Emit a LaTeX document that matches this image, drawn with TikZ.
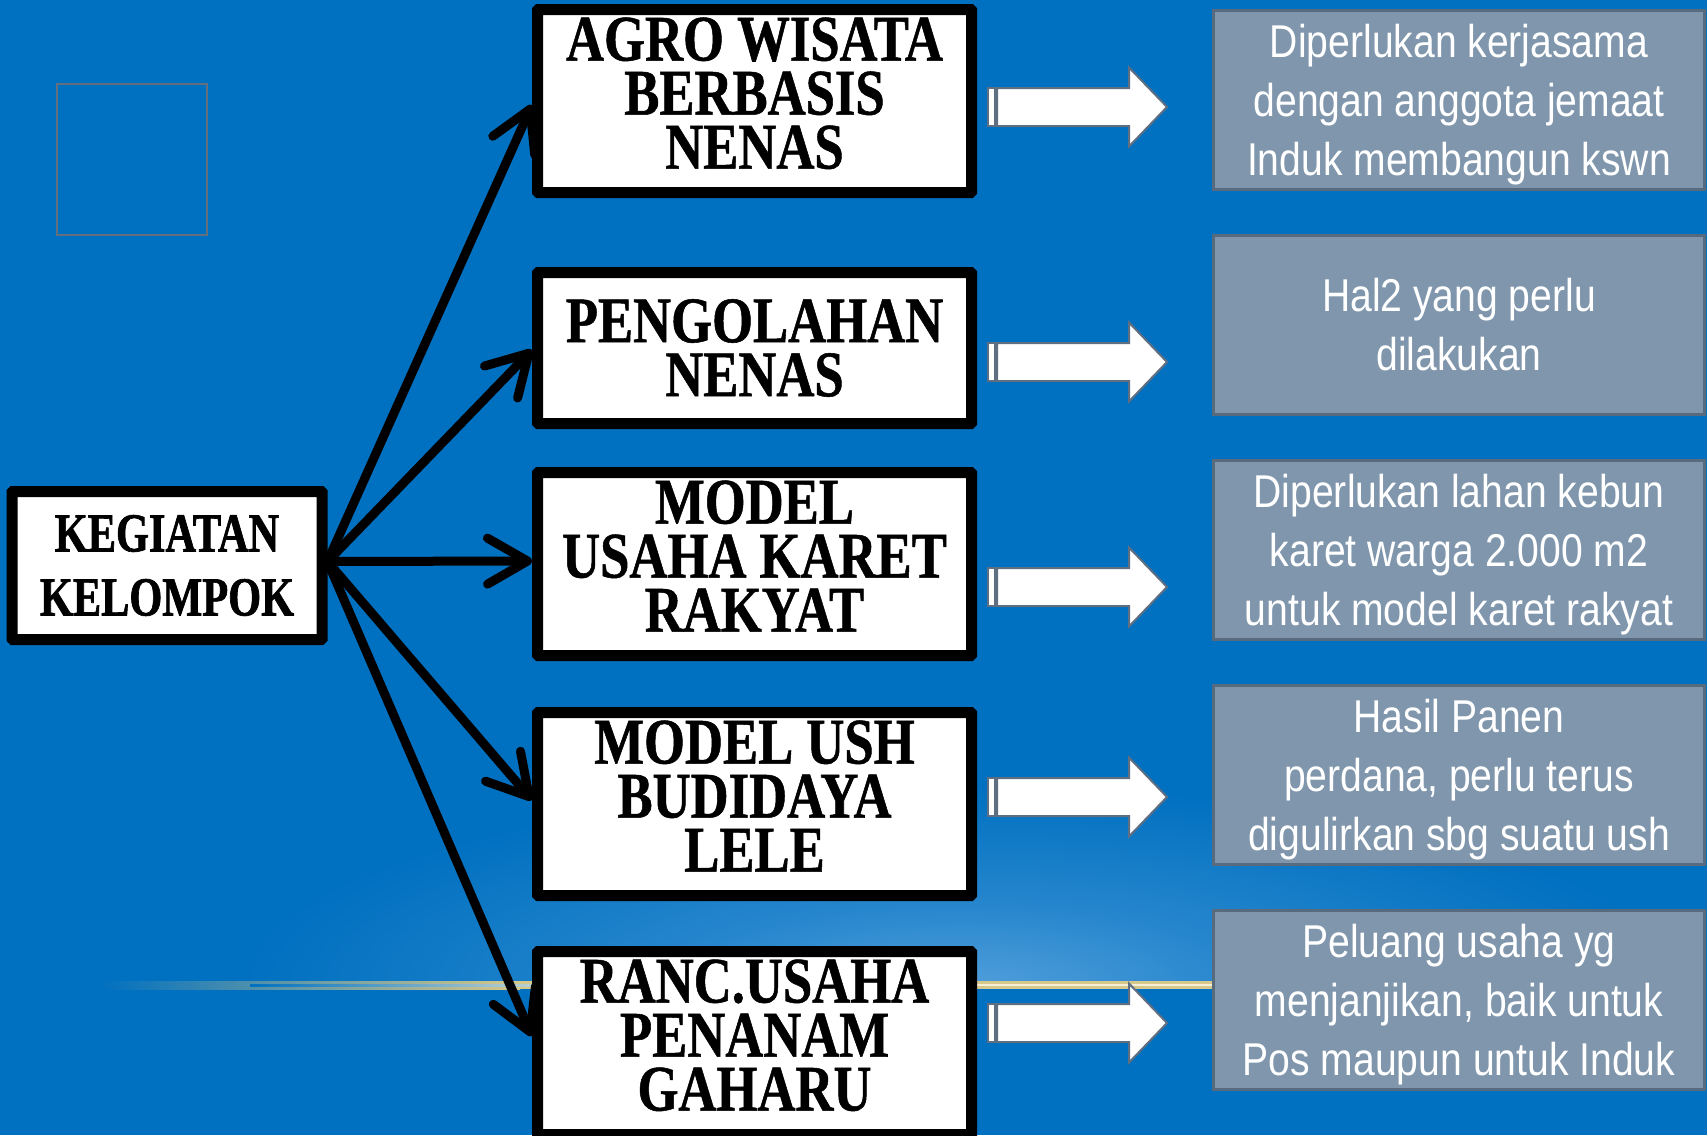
\documentclass[tikz,border=0pt]{standalone}
\usepackage{fontspec}
\usetikzlibrary{arrows.meta}
\newfontfamily\boxfont{Liberation Serif}[FakeStretch=0.81,FakeBold=0.8]
\newfontfamily\kegfont{Liberation Serif}[FakeStretch=0.77,FakeBold=1.2]
\newfontfamily\infofont{Liberation Sans}[FakeStretch=0.85]
\definecolor{bgblue}{RGB}{0,112,192}
\definecolor{glowc}{RGB}{80,158,218}
\definecolor{glowm}{RGB}{38,134,205}
\definecolor{infofill}{RGB}{127,150,172}
\definecolor{infoline}{RGB}{88,106,125}
\definecolor{arrline}{RGB}{95,110,128}
\definecolor{sqline}{RGB}{100,110,125}
\definecolor{linegold}{RGB}{214,200,138}
\definecolor{linecore}{RGB}{245,240,215}
\pgfdeclareradialshading{glowshade}{\pgfpoint{0bp}{0bp}}{%
  color(0bp)=(glowc); color(10bp)=(glowm); color(25bp)=(bgblue); color(50bp)=(bgblue)}
\newcommand{\wblock}[1]{%
  \draw[arrline, line width=2pt, fill=white] (988,#1-19) rectangle (995,#1+19);
  \draw[arrline, line width=2pt, fill=white, line join=miter]
    (997,#1-19) -- (1129,#1-19) -- (1129,#1-39.5) -- (1167,#1) -- (1129,#1+39.5)
    -- (1129,#1+19) -- (997,#1+19) -- cycle;}
\begin{document}
\begin{tikzpicture}[x=1pt,y=-1pt,
  kbox/.style={draw=black, line width=11pt, fill=white, rounded corners=1pt,
    minimum width=434pt, align=center, inner sep=0pt, text=black,
    font=\boxfont\bfseries\fontsize{65}{54}\selectfont},
  kegbox/.style={draw=black, line width=11pt, fill=white, rounded corners=1pt,
    minimum width=310pt, minimum height=148pt, align=center, inner sep=0pt,
    font=\kegfont\bfseries\fontsize{55}{64}\selectfont},
  ibox/.style={draw=infoline, line width=3pt, fill=infofill, minimum width=491pt,
    minimum height=179pt, align=center, inner sep=0pt, text=white,
    font=\infofont\fontsize{46}{59}\selectfont},
  conn/.style={draw=black, line width=9pt, line cap=round,
    -{Straight Barb[length=40pt,width=46pt,round]}}]
\useasboundingbox (0,0) rectangle (1707,1135);
% background
\fill[bgblue] (0,0) rectangle (1707,1135);
\begin{scope}
  \clip (0,0) rectangle (1707,985);
  \shade[shading=glowshade] (960,985) ellipse [x radius=720, y radius=200];
\end{scope}
% horizon line
\shade[left color=bgblue, right color=linegold] (100,981) rectangle (520,989);
\fill[linegold] (519,981) rectangle (1215,989);
\shade[left color=bgblue, right color=linecore] (250,984) rectangle (620,986);
\fill[linecore] (619,984) rectangle (1215,986);
% square outline
\draw[sqline, line width=2pt] (57,84) rectangle (207,235);
% boxes
\node[kegbox] (keg) at (167,565.5) {KEGIATAN\\KELOMPOK};
\node[kbox, minimum height=183pt] (b1) at (754.5,101) {AGRO WISATA\\BERBASIS\\NENAS\\[-38pt]\mbox{}};
\node[kbox, minimum height=151pt] (b2) at (754.5,348) {PENGOLAHAN\\NENAS};
\node[kbox, minimum height=183pt] (b3) at (754.5,564) {MODEL\\USAHA KARET\\RAKYAT\\[-38pt]\mbox{}};
\node[kbox, minimum height=183pt] (b4) at (754.5,804) {MODEL USH\\BUDIDAYA\\LELE\\[-38pt]\mbox{}};
\node[kbox, minimum height=183pt] (b5) at (754.5,1043) {RANC.USAHA\\PENANAM\\GAHARU\\[-38pt]\mbox{}};
% connectors
\draw[conn] ([yshift=4pt]keg.east) -- ([yshift=-4pt]b1.west);
\draw[conn] ([yshift=4pt]keg.east) -- ([yshift=-2pt]b2.west);
\draw[conn] ([yshift=4pt]keg.east) -- ([yshift=3pt]b3.west);
\draw[conn] ([yshift=4pt]keg.east) -- ([yshift=4pt]b4.west);
\draw[conn] ([yshift=4pt]keg.east) -- ([yshift=7pt]b5.west);
% white block arrows
\wblock{107}
\wblock{362}
\wblock{587}
\wblock{797}
\wblock{1023}
% info boxes
\node[ibox] (i1) at (1459,100) {Diperlukan kerjasama\\dengan anggota jemaat\\\smash{Induk membangun kswn}};
\node[ibox] (i2) at (1459,324.5) {Hal2 yang perlu\\dilakukan};
\node[ibox] (i3) at (1459,550) {Diperlukan lahan kebun\\karet warga 2.000 m2\\\smash{untuk model karet rakyat}};
\node[ibox] (i4) at (1459,775) {Hasil Panen\\perdana, perlu terus\\\smash{digulirkan sbg suatu ush}};
\node[ibox] (i5) at (1459,1000) {Peluang usaha yg\\menjanjikan, baik untuk\\\smash{Pos maupun untuk Induk}};
\end{tikzpicture}
\end{document}
